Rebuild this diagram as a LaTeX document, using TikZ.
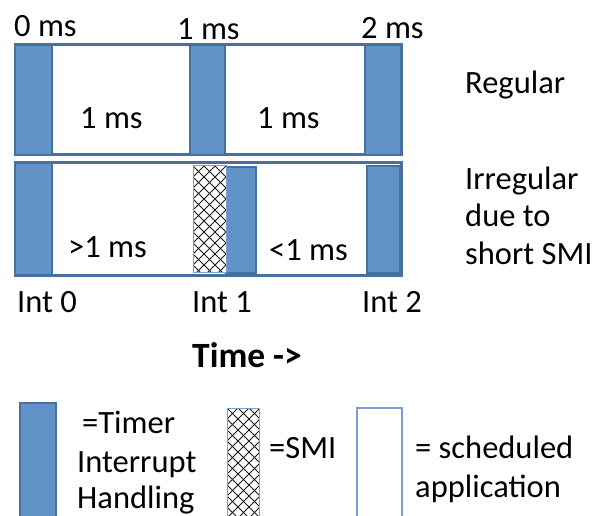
\documentclass[tikz,border=0pt]{standalone}
\usepackage{fontspec}
\setmainfont{Carlito}
\definecolor{barfill}{RGB}{97,146,200}
\definecolor{barline}{RGB}{72,112,158}
\definecolor{thinline}{RGB}{120,160,210}

% diamond cross-hatching inside a rectangle: #1,#2 top-left, #3,#4 bottom-right
\newcommand\smihatch[4]{%
  \begin{scope}
    \clip (#1,#2) rectangle (#3,#4);
    \fill[white] (#1,#2) rectangle (#3,#4);
    \foreach \k in {-14,...,16}{
      \draw[black!90, line width=0.9pt] ({#1+11*\k},#2) -- ++(150,150);
      \draw[black!90, line width=0.9pt] ({#1+11*\k},#2) -- ++(-150,150);
    }
  \end{scope}
  \draw[thinline, line width=1pt] (#1,#2) rectangle (#3,#4);
}

\begin{document}
\begin{tikzpicture}[x=1pt,y=-1pt,
  txt/.style={font=\fontsize{32.5}{38}\selectfont, inner sep=0pt, anchor=base west},
  boldtxt/.style={font=\fontsize{35.5}{42}\selectfont\bfseries, inner sep=0pt, anchor=base west},
  rowframe/.style={draw=barline, line width=3pt, fill=white},
  intbar/.style={fill=barfill, draw=barline, line width=2.5pt},
  appbox/.style={fill=white, draw=thinline, line width=1.2pt},
]
\useasboundingbox (0,0) rectangle (595,516);

% regular timeline
\draw[rowframe] (15,45) rectangle (401,155);
\draw[intbar] (15,45) rectangle (52,155);
\draw[intbar] (190,45) rectangle (225,155);
\draw[intbar] (365,45) rectangle (401,155);

% irregular timeline
\draw[rowframe] (15,163) rectangle (401,275);
\draw[intbar] (15,163) rectangle (52,275);
\draw[intbar] (226,167) rectangle (256,273);
\smihatch{193}{166}{226}{272}
\draw[intbar] (367,166) rectangle (400,273);

% time labels
\node[txt] (t0) at (14,37) {0 ms};
\node[txt] (t1) at (177,40) {1 ms};
\node[txt] (t2) at (361,39) {2 ms};
\node[txt] (d1) at (80,129) {1 ms};
\node[txt] (d2) at (257,129) {1 ms};
\node[txt] (d3) at (68,258) {>1 ms};
\node[txt] (d4) at (269,261) {<1 ms};

% row captions
\node[txt] (reg) at (465,94) {Regular};
\node[txt] (irr1) at (465,190) {Irregular};
\node[txt] (irr2) at (465,227) {due to};
\node[txt] (irr3) at (465,265) {short SMI};

% interrupt labels
\node[txt] (i0) at (17,312) {Int 0};
\node[txt] (i1) at (192,312) {Int 1};
\node[txt] (i2) at (362,312) {Int 2};
\node[boldtxt] (time) at (192,367) {Time ->};

% legend
\draw[intbar] (20,403) rectangle (56,530);
\node[txt] (lg1a) at (82,433) {=Timer};
\node[txt] (lg1b) at (77,472) {Interrupt};
\node[txt] (lg1c) at (77,508) {Handling};

\smihatch{227}{408}{259}{530}
\node[txt] (lg2) at (269,458) {=SMI};

\draw[appbox] (357,408) rectangle (402,530);
\node[txt] (lg3a) at (415,458) {= scheduled};
\node[txt] (lg3b) at (415,497) {application};
\end{tikzpicture}
\end{document}
